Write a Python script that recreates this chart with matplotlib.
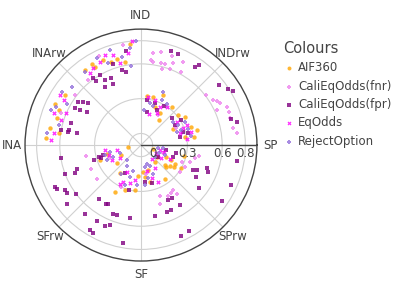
import numpy as np
import matplotlib
matplotlib.use('Agg')
import matplotlib.pyplot as plt
from matplotlib.transforms import offset_copy

plt.rcParams['font.family'] = ['DejaVu Sans']

# angular categories (degrees, counterclockwise from the right)
categories = ['SP', 'INDrw', 'IND', 'INArw', 'INA', 'SFrw', 'SF', 'SPrw']
cat_angles = [0, 45, 90, 135, 180, 225, 270, 315]
r_ticks = [0, 0.3, 0.6, 0.8]
r_tick_labels = ['0', '0.3', '0.6', '0.8']

# AIF360
aif_theta = [75.7, 65.9, 53.8, 50.8, 83.5, 70, 60,
             38.8, 19.9, 15.1, 9, 10.7, 27.3, 33,
             -36.7, -25, -26.8, -33.9, -39.8, -20, -15, -30, -35, -29, -41.8,
             -85, -73.7, -50, -76.2, -82.8, -55,
             -119.1, -97.6, -126.6, -94.9, -110,
             -159.9, -143, -172, -152.6, -165,
             121.1, 120.4, 126.7, 109.8, 105.8, 100.9, 113.9, 96,
             154.1, 157.1, 169.6, 146.7, 162.4, 171.8, 176]
aif_r = [0.33, 0.37, 0.17, 0.32, 0.33, 0.25, 0.22,
         0.31, 0.36, 0.40, 0.36, 0.29, 0.21, 0.35,
         0.07, 0.14, 0.19, 0.24, 0.17, 0.01, 0.28, 0.30, 0.21, 0.24, 0.19,
         0.13, 0.12, 0.09, 0.23, 0.18, 0.26,
         0.36, 0.29, 0.20, 0.17, 0.31,
         0.28, 0.16, 0.01, 0.09, 0.20,
         0.72, 0.68, 0.71, 0.66, 0.67, 0.63, 0.70, 0.78,
         0.72, 0.67, 0.70, 0.68, 0.66, 0.61, 0.72]

# CaliEqOdds(fnr)
fnr_theta = [82.8, 83.5, 81.5, 76.6, 73.6, 70.8, 68.4, 62.9, 74.9, 69, 61, 78,
             37.3, 31.9, 27.8, 24.1, 24.8, 16.7, 10.2, 7, 20.9, 30,
             -34.4, -26.2, -18.8, -13.9, -10.7, -22,
             -54.3, -57.6, -53.5, -70, -72, -62,
             -168.9, -154.2, -142.1,
             26, 60, -115, -158, -80, -20,
             129, 142.9, 158, 115, 100]
fnr_r = [0.70, 0.64, 0.62, 0.63, 0.63, 0.71, 0.66, 0.70, 0.58, 0.60, 0.62, 0.72,
         0.61, 0.63, 0.67, 0.71, 0.62, 0.70, 0.71, 0.73, 0.71, 0.66,
         0.31, 0.32, 0.35, 0.38, 0.41, 0.28,
         0.38, 0.39, 0.42, 0.37, 0.43, 0.40,
         0.38, 0.38, 0.38,
         0.24, 0.20, 0.30, 0.20, 0.15, 0.10,
         0.62, 0.61, 0.64, 0.75, 0.78]

# CaliEqOdds(fpr)
fpr_theta = [72.5, 67.7, 55.4, 53.9,
             37.9, 33, 30.3, 16.2, 13.7,
             -20.9, -13.3, -25.5, -23.9, -19.5, -21.6, -36.2, -9.2, -24, -34.8, -30,
             -57, -60, -63.6, -69, -65.5, -78.8, -60.8, -66.4,
             -129, -120, -121, -118.6, -128.2, -121, -119.3, -111.9, -109.1, -114,
             -111.1, -98.5, -100.3,
             -170.6, -159.1, -157.5, -159.4, -154.1, -152.4, -149.4, -147, -143,
             -141.4, -162.7, -163.8,
             125.6, 125, 120.4, 119, 114.2, 114.2, 122.2, 104.4, 101.7, 108.7, 99,
             145.4, 143.1, 141.6, 150.9, 150.2, 148.5, 162.6, 168.1, 169.6, 169.7, 169.3,
             82.8, 79.3, 65.8, 71.4, 59.1,
             41, 30.5, 31.6, 17.7, 13.9, 12,
             -12, -35, -83.8, -74, -120, -105, -161.3, -166]
fpr_r = [0.75, 0.75, 0.72, 0.75,
         0.75, 0.79, 0.82, 0.71, 0.75,
         0.20, 0.21, 0.40, 0.43, 0.50, 0.52, 0.52, 0.74, 0.75, 0.75, 0.45,
         0.52, 0.43, 0.43, 0.52, 0.52, 0.52, 0.75, 0.76,
         0.67, 0.66, 0.75, 0.76, 0.49, 0.49, 0.48, 0.54, 0.54, 0.66,
         0.64, 0.54, 0.76,
         0.60, 0.60, 0.52, 0.49, 0.72, 0.72, 0.66, 0.66, 0.60,
         0.72, 0.32, 0.28,
         0.61, 0.57, 0.60, 0.54, 0.53, 0.48, 0.49, 0.57, 0.54, 0.64, 0.72,
         0.56, 0.52, 0.48, 0.55, 0.51, 0.45, 0.53, 0.53, 0.54, 0.46, 0.60,
         0.29, 0.19, 0.23, 0.28, 0.29,
         0.25, 0.24, 0.31, 0.28, 0.32, 0.24,
         0.12, 0.08, 0.22, 0.24, 0.18, 0.30, 0.26, 0.24]

# EqOdds
eq_theta = [81.4, 72.7, 63.6, 56.1, 63.7, 75,
            33.1, 21.5, 16.7, 23.6, 14.7, 8,
            -14.7, -28, -15.6, -32.8, -25,
            -72.2, -78, -59, -51, -65,
            -115.7, -106, -99.7, -118.2, -118.7,
            -172.1, -168.4, -163, -147.6, -152.9,
            111.8, 116.2, 125.4, 107.1, 104.4, 97.9, 121.9, 95,
            148.3, 149.9, 160.1, 162.5, 172.4, 156.9, 177]
eq_r = [0.32, 0.31, 0.27, 0.30, 0.21, 0.18,
        0.27, 0.29, 0.25, 0.33, 0.35, 0.30,
        0.07, 0.05, 0.11, 0.11, 0.18,
        0.20, 0.13, 0.13, 0.05, 0.25,
        0.25, 0.24, 0.21, 0.16, 0.28,
        0.21, 0.11, 0.19, 0.11, 0.18,
        0.74, 0.70, 0.66, 0.71, 0.63, 0.70, 0.68, 0.80,
        0.72, 0.67, 0.70, 0.62, 0.66, 0.60, 0.68]

# RejectOption
rej_theta = [77.8, 72.2, 65.3, 67.3, 58.4, 85,
             35.8, 28.2, 27.9, 20.2, 19.4, 20.4, 10,
             -10.8, -8.7, -24.4, -40, -22.6,
             -72.7, -67.5, -66.5, -79.6, -77.6, -85,
             -124.3, -123.4, -107, -109, -96.2, -111.8,
             -164.5, -167.8, -157, -158.4, -156.4, -133.6,
             127.4, 117.1, 111.8, 102.3, 96.5, 97.1, 93, 108,
             146.1, 158.6, 172.9, 155.6, 166.4, 150.7, 140]
rej_r = [0.27, 0.25, 0.33, 0.40, 0.32, 0.20,
         0.24, 0.26, 0.33, 0.27, 0.33, 0.23, 0.34,
         0.05, 0.09, 0.07, 0.06, 0.12,
         0.07, 0.10, 0.17, 0.09, 0.19, 0.25,
         0.20, 0.12, 0.13, 0.19, 0.25, 0.27,
         0.22, 0.17, 0.16, 0.09, 0.22, 0.08,
         0.69, 0.74, 0.66, 0.68, 0.74, 0.59, 0.80, 0.76,
         0.72, 0.73, 0.72, 0.70, 0.63, 0.63, 0.68]

series = [
    ('AIF360', aif_theta, aif_r, '#ffa500', 'o'),
    ('CaliEqOdds(fnr)', fnr_theta, fnr_r, '#ee82ee', 'P'),
    ('CaliEqOdds(fpr)', fpr_theta, fpr_r, '#800080', 's'),
    ('EqOdds', eq_theta, eq_r, '#ff00ff', 'X'),
    ('RejectOption', rej_theta, rej_r, '#9370db', 'P'),
]

fig = plt.figure(figsize=(4.07, 2.91), dpi=100)
ax = fig.add_axes([0.0614, 0.103, 0.570, 0.797], projection='polar')

for name, th, r, col, mk in series:
    ax.scatter(np.radians(th), r, s=10, c=col, marker=mk, alpha=0.8,
               linewidths=0, label=name, zorder=3)

ax.set_ylim(-0.1, 0.9)
ax.set_yticks(r_ticks)
ax.set_yticklabels([])
ax.set_xticks(np.radians(cat_angles))
ax.set_xticklabels(categories, fontsize=8.5, color='#444444')
ax.tick_params(axis='x', pad=-1)
ax.grid(color='#d0d0d0', linewidth=0.8)
ax.spines['polar'].set_color('#444444')
ax.spines['polar'].set_linewidth(1.0)

# radial axis line and tick labels along SP
ax.plot([0, 0], [-0.1, 0.9], color='#444444', linewidth=1.0, zorder=2)
lab_tr = offset_copy(ax.transData, fig=fig, x=0, y=-1.5, units='points')
for rv, lab in zip(r_ticks, r_tick_labels):
    ax.text(0, rv, lab, transform=lab_tr, ha='center', va='top',
            fontsize=8.5, color='#444444', zorder=4)

leg = fig.legend(loc='upper left', bbox_to_anchor=(0.67, 0.895), frameon=False,
                 title='Colours', fontsize=8.5, title_fontsize=10.5,
                 handletextpad=0.25, labelspacing=0.45, markerscale=0.9,
                 alignment='left', handlelength=1.0)
for t in leg.get_texts():
    t.set_color('#444444')
leg.get_title().set_color('#444444')

fig.savefig('out.png', dpi=100)
